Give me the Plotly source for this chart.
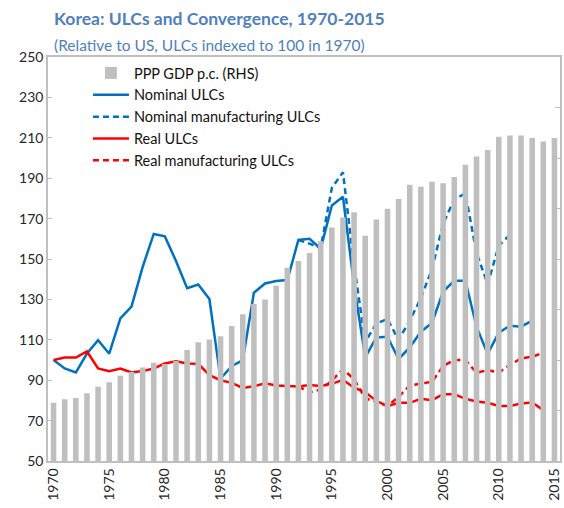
import plotly.graph_objects as go

years = list(range(1970, 2016))

gdp_ppp = [78.8, 80.6, 81.2, 83.6, 86.7, 89.0, 92.2, 94.0, 96.3, 98.6,
           98.0, 99.5, 104.9, 108.8, 110.2, 111.8, 116.8, 122.7, 127.7, 130.0,
           136.8, 145.7, 149.0, 153.0, 158.8, 165.6, 170.6, 173.1, 161.5, 169.5,
           174.9, 179.7, 186.8, 185.8, 188.2, 187.5, 190.6, 196.6, 200.7, 203.9,
           210.5, 211.2, 211.2, 209.9, 208.2, 209.9]

nominal_ulc = [100, 95.8, 93.8, 103.2, 109.8, 103.1, 120.6, 126.4, 146.0, 162.4,
               161.2, 149.0, 135.5, 137.4, 130.2, 90.8, 96.9, 99.9, 133.3, 137.9,
               139.1, 139.6, 159.4, 160.0, 155.1, 176.5, 180.8, 137.0, 101.3, 111.2,
               111.5, 100.5, 106.2, 114.0, 118.3, 133.9, 139.2, 139.2, 116.5, 103.0,
               113.5, 117.0, 116.5, 119.5, None, None]

nominal_mfg_ulc = [None] * 22 + [159.4, 157.6, 155.4, 185.2, 192.9, 147.0, 109.0, 118.0,
                                 120.3, 109.9, 119.5, 130.6, 145.0, 167.5, 179.5, 182.5, 153.0, 137.5,
                                 156.6, 162.0, None, None, None, None]

real_ulc = [100, 101.2, 101.2, 104.2, 95.8, 94.5, 95.8, 93.8, 94.5, 95.8,
            98.3, 99.4, 98.3, 98.1, 92.5, 90.0, 88.7, 86.2, 87.0, 88.5,
            87.4, 87.2, 86.9, 87.6, 87.1, 88.2, 90.2, 86.3, 84.0, 79.8,
            77.2, 78.8, 78.8, 80.8, 80.1, 83.1, 83.1, 80.8, 79.5, 78.8,
            77.2, 77.2, 78.5, 79.0, 75.2, None]

real_mfg_ulc = [None] * 22 + [86.9, 83.9, 85.4, 89.8, 95.4, 90.5, 81.0, 79.3,
                              77.2, 81.8, 87.4, 88.4, 89.2, 97.0, 100.0, 100.0, 93.7, 95.0,
                              93.8, 97.5, 100.8, 101.6, 103.6, None]

x_ticks = [1970, 1975, 1980, 1985, 1990, 1995, 2000, 2005, 2010, 2015]
y_ticks = list(range(50, 251, 20))

BLUE = "#0070C0"
RED = "#FF0000"
GREY = "#BFBFBF"
AXIS = "#BFBFBF"
TITLE_C = "#4F81BD"
FONT = "Lato, 'Open Sans', sans-serif"

fig = go.Figure()
fig.add_trace(go.Bar(x=years, y=gdp_ppp, name="PPP GDP p.c. (RHS)",
                     marker=dict(color=GREY, line=dict(width=0)),
                     width=0.5, yaxis="y2"))
fig.add_trace(go.Scatter(x=years, y=nominal_ulc, name="Nominal ULCs", mode="lines",
                         line=dict(color=BLUE, width=2.5)))
fig.add_trace(go.Scatter(x=years, y=nominal_mfg_ulc, name="Nominal manufacturing ULCs",
                         mode="lines", line=dict(color=BLUE, width=2.5, dash="6px,4px")))
fig.add_trace(go.Scatter(x=years, y=real_ulc, name="Real ULCs", mode="lines",
                         line=dict(color=RED, width=2.5)))
fig.add_trace(go.Scatter(x=years, y=real_mfg_ulc, name="Real manufacturing ULCs",
                         mode="lines", line=dict(color=RED, width=2.5, dash="6px,4px")))

fig.update_layout(
    width=564, height=508,
    margin=dict(l=48, r=2, t=57, b=47),
    paper_bgcolor="white", plot_bgcolor="white",
    font=dict(family=FONT, size=13, color="#262626"),
    showlegend=True,
    legend=dict(x=0.078, y=1.0, xanchor="left", yanchor="top",
                bgcolor="rgba(0,0,0,0)", font=dict(size=14.5, color="#111111"),
                tracegroupgap=0, itemwidth=36),
    xaxis=dict(range=[1969.5, 2015.5], tickvals=x_ticks, ticktext=[str(v) for v in x_ticks],
               tickangle=-90, showgrid=False, zeroline=False,
               showline=True, linecolor=AXIS, linewidth=1.5, mirror=True,
               ticks="", tickfont=dict(size=14)),
    yaxis=dict(range=[50, 250], tickvals=y_ticks, showgrid=False, zeroline=False,
               showline=True, linecolor=AXIS, linewidth=1.5,
               ticks="inside", ticklen=4, tickcolor=AXIS, tickfont=dict(size=14)),
    yaxis2=dict(range=[50, 250], dtick=25, overlaying="y", side="right",
                showgrid=False, zeroline=False, showline=True, linecolor=AXIS, linewidth=1.5,
                ticks="inside", ticklen=5, tickcolor=AXIS, showticklabels=False),
    bargap=0.5,
    annotations=[
        dict(text="<b>Korea: ULCs and Convergence, 1970-2015</b>", xref="paper", yref="paper",
             x=0.008, y=1.095, xanchor="left", yanchor="middle", showarrow=False,
             font=dict(size=17.5, color=TITLE_C)),
        dict(text="(Relative to US, ULCs indexed to 100 in 1970)", xref="paper", yref="paper",
             x=0.008, y=1.03, xanchor="left", yanchor="middle", showarrow=False,
             font=dict(size=15.5, color=TITLE_C)),
    ],
)

fig.write_html("out.html", config={"displayModeBar": False},
               post_script="document.body.style.margin='0';document.body.style.padding='0';")
